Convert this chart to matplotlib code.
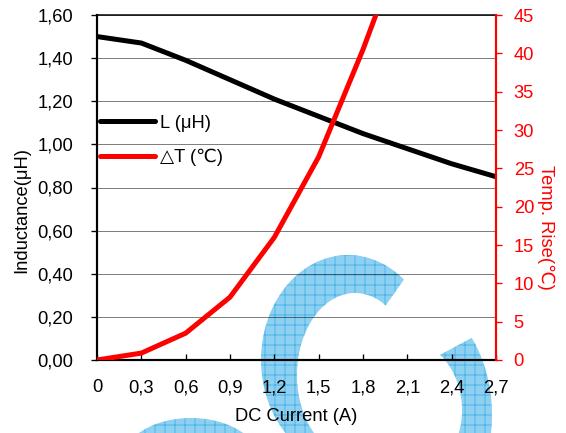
import numpy as np
import matplotlib
matplotlib.use("Agg")
import matplotlib.pyplot as plt
from matplotlib.patches import Polygon
from matplotlib.transforms import IdentityTransform

plt.rcParams['font.family'] = ['Liberation Sans', 'DejaVu Sans']
plt.rcParams['hatch.linewidth'] = 0.45

# data
current = [0, 0.3, 0.6, 0.9, 1.2, 1.5, 1.8, 2.1, 2.4, 2.7]
inductance = [1.50, 1.47, 1.39, 1.30, 1.21, 1.13, 1.05, 0.98, 0.91, 0.85]
temp_cur = [0, 0.3, 0.6, 0.9, 1.2, 1.5, 1.8, 2.1]
temp_rise = [0.0, 0.9, 3.5, 8.2, 16.0, 26.5, 40.5, 56.0]

x_ticks = [0, 0.3, 0.6, 0.9, 1.2, 1.5, 1.8, 2.1, 2.4, 2.7]
x_labels = ["0", "0,3", "0,6", "0,9", "1,2", "1,5", "1,8", "2,1", "2,4", "2,7"]
l_ticks = [0, 0.2, 0.4, 0.6, 0.8, 1.0, 1.2, 1.4, 1.6]
l_labels = ["0,00", "0,20", "0,40", "0,60", "0,80", "1,00", "1,20", "1,40", "1,60"]
t_ticks = [0, 5, 10, 15, 20, 25, 30, 35, 40, 45]

W, H = 566, 433
DPI = 120
FS = 11
fig = plt.figure(figsize=(W / DPI, H / DPI), dpi=DPI)


# watermark (pixel coords, y from the top of the image)
def ring(outer, inner, n=120):
    cx, cy, rx, ry, a1, a2 = outer
    t = np.radians(np.linspace(a1, a2, n))
    pts = [(cx + rx * np.cos(a), H - (cy - ry * np.sin(a))) for a in t]
    if inner is not None:
        cx, cy, rx, ry, a1, a2 = inner
        t = np.radians(np.linspace(a1, a2, n))
        pts += [(cx + rx * np.cos(a), H - (cy - ry * np.sin(a))) for a in t]
    return pts


shapes = [
    ring((348, 360, 87, 105, 50, 300), (355, 375, 58, 82, 300, 58)),
    ring((405, 415, 87, 120, 40, -40), (405, 410, 57, 70, -60, 52)),
    ring((191, 463, 70, 45, 0, 360), None),
]
for pts in shapes:
    p = Polygon(pts, closed=True, facecolor='#8dd0f1', edgecolor='#3aaee3',
                linewidth=0, hatch='++', transform=IdentityTransform(), zorder=-5)
    fig.add_artist(p)

ax = fig.add_axes([97 / W, 1 - 360 / H, 399 / W, 345 / H])
ax.set_facecolor('none')
ax2 = ax.twinx()

ax.plot(current, inductance, color='black', lw=3, label='L (μH)', solid_capstyle='round')
ax2.plot(temp_cur, temp_rise, color='red', lw=3, label='△T (℃)', solid_capstyle='round')

ax.set_xlim(0, 2.7)
ax.set_ylim(0, 1.6)
ax2.set_ylim(0, 45)

ax.set_xticks(x_ticks)
ax.set_xticklabels(x_labels)
ax.set_yticks(l_ticks)
ax.set_yticklabels(l_labels)
ax2.set_yticks(t_ticks)

ax.tick_params(axis='x', direction='in', length=3.6, width=0.8, pad=11.5, labelsize=FS)
ax.tick_params(axis='y', direction='out', length=3.6, width=0.8, pad=10.5, labelsize=FS)
ax2.tick_params(axis='y', direction='out', length=3.6, width=0.8, pad=7,
                labelsize=FS, colors='red')

ax.grid(axis='y', color='black', linestyle=(0, (1, 1)), lw=0.6)

for s in ['left', 'bottom']:
    ax.spines[s].set_linewidth(1.3)
ax.spines['top'].set_linewidth(0.9)
ax2.spines['top'].set_visible(False)
ax2.spines['left'].set_visible(False)
ax2.spines['bottom'].set_visible(False)
ax2.spines['right'].set_color('red')
ax2.spines['right'].set_linewidth(1.3)
ax.spines['right'].set_visible(False)

ax.set_xlabel('DC Current (A)', fontsize=FS)
ax.xaxis.set_label_coords(0.5, -0.138)
ax.set_ylabel('Inductance(μH)', fontsize=FS, va='bottom')
ax.yaxis.set_label_coords(-0.168, 0.435)
ax2.set_ylabel('Temp. Rise(℃)', fontsize=FS, color='red', rotation=270, va='bottom')
ax2.yaxis.set_label_coords(1.103, 0.383)

h1, lab1 = ax.get_legend_handles_labels()
h2, lab2 = ax2.get_legend_handles_labels()
ax2.legend(h1 + h2, lab1 + lab2, loc='center left', bbox_to_anchor=(0.0075, 0.636),
           frameon=False, fontsize=FS, borderpad=0, borderaxespad=0,
           handlelength=3.0, handletextpad=0.25, labelspacing=0.95)

fig.savefig('out.png', dpi=DPI)
